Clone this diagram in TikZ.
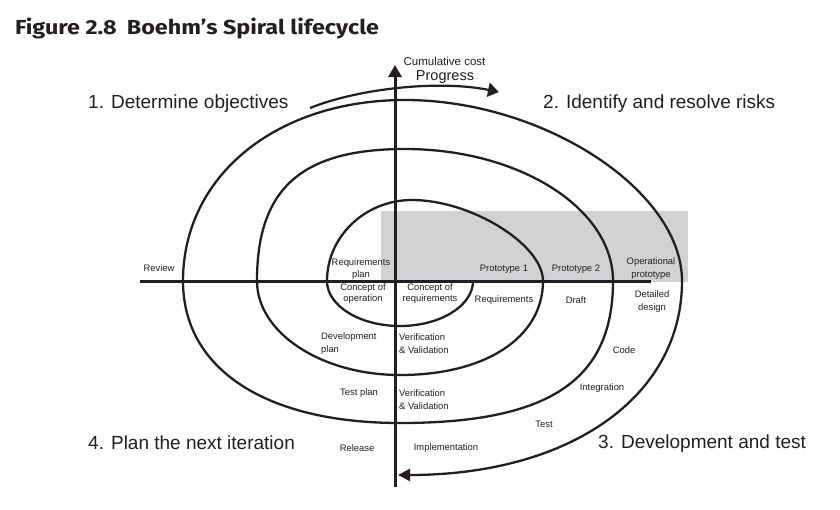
\documentclass[tikz,border=0pt]{standalone}
\usepackage{fontspec}
\setmainfont{Liberation Sans}
\newfontfamily\titlefont{Fira Sans}[FakeStretch=1.15]
\usetikzlibrary{arrows.meta}
\definecolor{ink}{HTML}{231F20}
\definecolor{band}{HTML}{D1D2D4}
\begin{document}
\begin{tikzpicture}[x=1pt,y=1pt,
  spiral/.style={draw=ink, line width=2.3pt},
  axisline/.style={draw=ink, line width=3pt},
  small/.style={font=\fontsize{9.4}{12.5}\selectfont, text=ink, inner sep=0pt, align=center},
  big/.style={font=\fontsize{19}{22}\selectfont, text=ink, inner sep=0pt, anchor=base west},
]
\fill[white] (0,0) rectangle (840,-509);
\useasboundingbox (0,0) rectangle (840,-509);

% title
\node[anchor=base west, inner sep=0pt, text=ink, font=\titlefont\bfseries\fontsize{20.3}{24}\selectfont] (title) at (15,-34) {Figure 2.8\enspace Boehm’s Spiral lifecycle};

% grey band
\fill[band] (381,-211) rectangle (688,-282);

% axes
\coordinate (hL) at (140,-281);
\coordinate (hR) at (651,-281);
\coordinate (vB) at (395,-487);
\coordinate (vT) at (395,-65);
\draw[axisline] (hL) -- (hR);
\draw[axisline, -{Triangle[length=12pt,width=13pt]}] (vB) -- (vT);

% spiral
\coordinate (sStart) at (473,-281);
\coordinate (sEnd) at (398,-475);
\draw[spiral, -{Triangle[length=12pt,width=12pt]}]
 (sStart) .. controls (473,-305.8) and (440.2,-326) .. (400,-326)
 .. controls (359.8,-326) and (327,-305.8) .. (327,-281)
 .. controls (327,-236.4) and (365.2,-200) .. (412,-200)
 .. controls (471,-200) and (543,-244.5) .. (543,-281)
 .. controls (543,-337.4) and (485.8,-375) .. (400,-375)
 .. controls (321.3,-375) and (257,-332.7) .. (257,-281)
 .. controls (257,-188.6) and (301.4,-149) .. (405,-149)
 .. controls (519.4,-149) and (613,-208.4) .. (613,-281)
 .. controls (613,-380.4) and (549.1,-423) .. (400,-423)
 .. controls (265.5,-423) and (183,-369) .. (183,-281)
 .. controls (183,-176) and (276.2,-100) .. (405,-100)
 .. controls (543.5,-100) and (682,-190.5) .. (682,-281)
 .. controls (682,-397.4) and (569,-475) .. (sEnd);

% progress arrow
\coordinate (pA) at (310,-108);
\coordinate (pB) at (499,-92);
\draw[spiral, line width=2.2pt, -{Triangle[length=11pt,width=14pt]}]
 (pA) .. controls (360,-88) and (440,-80) .. (pB);

% axis texts
\node[anchor=base, inner sep=0pt, text=ink, font=\fontsize{11.5}{13}\selectfont] (cum) at (444.5,-65) {Cumulative cost};
\node[anchor=base, inner sep=0pt, text=ink, font=\fontsize{14.5}{16}\selectfont] (prog) at (445,-80) {Progress};

% quadrant texts
\node[big] (q1) at (88,-108) {1. Determine objectives};
\node[big] (q2) at (543,-108) {2. Identify and resolve risks};
\node[big] (q3) at (598,-448) {3. Development and test};
\node[big] (q4) at (88,-449) {4. Plan the next iteration};

% small labels
\node[small] (review) at (159,-268) {Review};
\node[small, font=\fontsize{9.4}{12}\selectfont] (reqplan) at (361,-269) {Requirements\\plan};
\node[small, font=\fontsize{9.4}{11}\selectfont] (conop) at (363,-293.5) {Concept of\\operation};
\node[small, font=\fontsize{9.4}{11}\selectfont] (conreq) at (430,-293.5) {Concept of\\requirements};
\node[small] (proto1) at (504,-269) {Prototype 1};
\node[small] (proto2) at (576,-269) {Prototype 2};
\node[small, font=\fontsize{9.4}{13}\selectfont] (opproto) at (651,-268.5) {Operational\\prototype};
\node[small] (req) at (504,-300) {Requirements};
\node[small] (draft) at (576,-300) {Draft};
\node[small, font=\fontsize{9.4}{13}\selectfont] (detdes) at (652,-301.5) {Detailed\\design};
\node[small, font=\fontsize{9.4}{13}\selectfont, align=left, anchor=west] (devplan) at (321,-343.5) {Development\\plan};
\node[small, font=\fontsize{9.4}{13}\selectfont, align=left, anchor=west] (vv1) at (399,-343.5) {Verification\\\& Validation};
\node[small] (testplan) at (359,-393) {Test plan};
\node[small, font=\fontsize{9.4}{13}\selectfont, align=left, anchor=west] (vv2) at (399,-399.5) {Verification\\\& Validation};
\node[small] (release) at (357,-448) {Release};
\node[small] (impl) at (446,-448) {Implementation};
\node[small] (code) at (624,-350) {Code};
\node[small] (integ) at (602,-388) {Integration};
\node[small] (test) at (544,-424) {Test};
\end{tikzpicture}
\end{document}
